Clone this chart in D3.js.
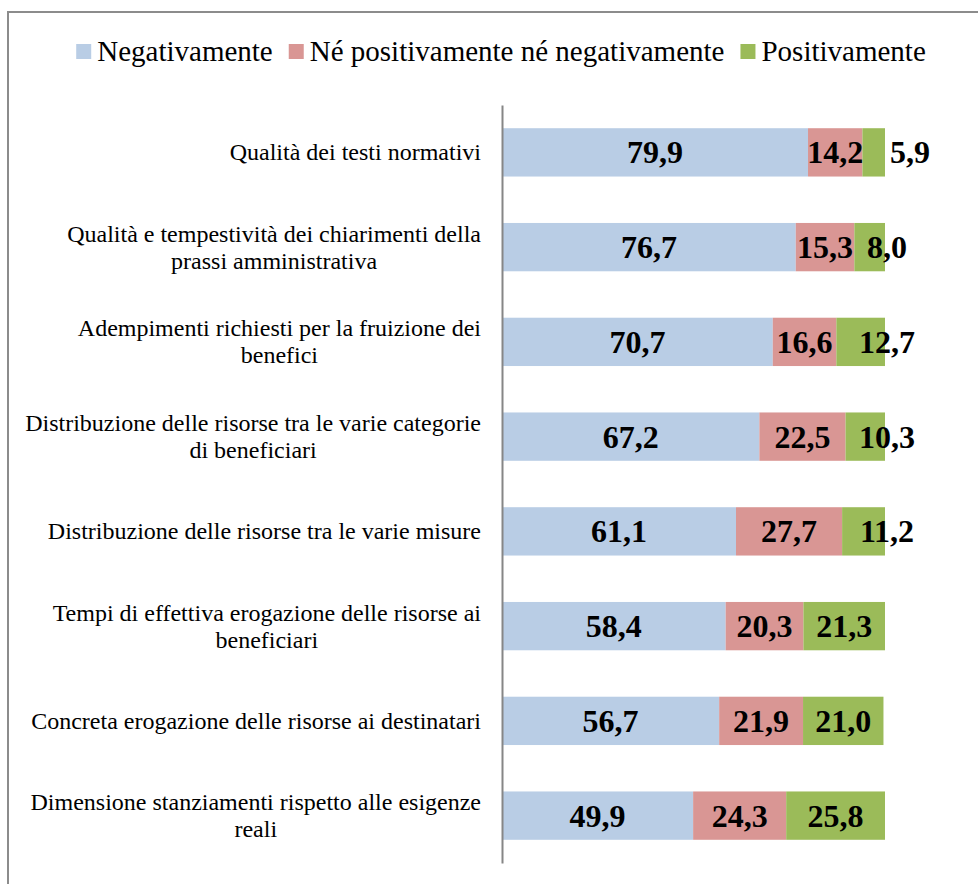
<!DOCTYPE html>
<html>
<head>
<meta charset="utf-8">
<script src="https://cdn.jsdelivr.net/npm/d3@7"></script>
<style>
  body { margin: 0; background: #fff; font-family: 'Liberation Serif', 'Times New Roman', Times, serif; }
  svg { display: block; }
</style>
</head>
<body>
<svg id="chart"></svg>
<script>
// data (percentages)
const categories = [
    "Qualità dei testi normativi",
    "Qualità e tempestività dei chiarimenti della prassi amministrativa",
    "Adempimenti richiesti per la fruizione dei benefici",
    "Distribuzione delle risorse tra le varie categorie di beneficiari",
    "Distribuzione delle risorse tra le varie misure",
    "Tempi di effettiva erogazione delle risorse ai beneficiari",
    "Concreta erogazione delle risorse ai destinatari",
    "Dimensione stanziamenti rispetto alle esigenze reali"
];
const negativamente = [79.9, 76.7, 70.7, 67.2, 61.1, 58.4, 56.7, 49.9];
const neutro        = [14.2, 15.3, 16.6, 22.5, 27.7, 20.3, 21.9, 24.3];
const positivamente = [5.9, 8.0, 12.7, 10.3, 11.2, 21.3, 21.0, 25.8];

const seriesNames = ["Negativamente", "Né positivamente né negativamente", "Positivamente"];
const seriesColors = ["#B9CDE5", "#D99694", "#9BBB59"];

const width = 978;
const height = 884;
const serif = "'Liberation Serif', 'Times New Roman', Times, serif";

const svg = d3.select('#chart')
    .attr('width', width)
    .attr('height', height)
    .attr('font-family', serif)
    .style('font-family', serif);

// outer frame (runs off the right and bottom of the picture)
svg.append('rect')
    .attr('x', 8).attr('y', 12)
    .attr('width', 1000).attr('height', 1000)
    .attr('fill', 'none')
    .attr('stroke', '#8c8c8c')
    .attr('stroke-width', 2);

const rows = categories.map((c, i) => ({
    category: c,
    Negativamente: negativamente[i],
    "Né positivamente né negativamente": neutro[i],
    Positivamente: positivamente[i]
}));

const stack = d3.stack().keys(seriesNames);
const layers = stack(rows);

const x = d3.scaleLinear().domain([0, 100]).range([502, 885]);
const y = d3.scaleBand()
    .domain(categories)
    .range([105, 863])
    .paddingInner(0.49)
    .paddingOuter(0.245);

const color = d3.scaleOrdinal().domain(seriesNames).range(seriesColors);

// bars
const groups = svg.selectAll('.layer')
    .data(layers)
    .join('g')
    .attr('class', 'layer')
    .attr('fill', d => color(d.key));

groups.selectAll('rect')
    .data(d => d)
    .join('rect')
    .attr('x', d => x(d[0]))
    .attr('y', d => y(d.data.category))
    .attr('width', d => x(d[1]) - x(d[0]))
    .attr('height', y.bandwidth());

// value labels
const labelSize = 32;
const labels = svg.append('g')
    .attr('font-weight', 'bold')
    .attr('font-size', labelSize)
    .attr('fill', '#000');

layers.forEach((layer, li) => {
    const isLast = li === layers.length - 1;
    layer.forEach(d => {
        const v = d[1] - d[0];
        const txt = v.toFixed(1).replace('.', ',');
        const t = labels.append('text')
            .attr('text-anchor', 'middle')
            .attr('y', y(d.data.category) + y.bandwidth() / 2 + 11)
            .text(txt);
        const tw = t.node().getComputedTextLength();
        const segW = x(d[1]) - x(d[0]);
        let cx = (x(d[0]) + x(d[1])) / 2;
        if (isLast && tw > segW) {
            // last segment too narrow: push its label towards / past the bar end
            if (segW < tw * 0.7) cx = x(d[1]) + 5 + tw / 2;
            else cx = Math.max(cx, x(100) + 2);
        }
        t.attr('x', cx);
    });
});

// axis line (no ticks, no labels drawn by axis)
const gy = svg.append('g')
    .attr('transform', `translate(${x(0)},0)`)
    .call(d3.axisLeft(y).tickSize(0).tickFormat(''));
gy.select('.domain').attr('stroke', '#868686').attr('stroke-width', 2);

// category labels, wrapped and centred as a block right-aligned to the axis
const catSize = 24;
const lineH = 27;
const maxW = 466;
const catG = svg.append('g')
    .attr('font-size', catSize)
    .attr('fill', '#000');

categories.forEach(c => {
    const words = c.split(' ');
    const lines = [];
    let cur = '';
    const probe = catG.append('text');
    words.forEach(w => {
        const test = cur ? cur + ' ' + w : w;
        probe.text(test);
        if (probe.node().getComputedTextLength() > maxW && cur) {
            lines.push(cur);
            cur = w;
        } else {
            cur = test;
        }
    });
    lines.push(cur);
    let widest = 0;
    lines.forEach(l => {
        probe.text(l);
        widest = Math.max(widest, probe.node().getComputedTextLength());
    });
    probe.remove();
    const cx = 481 - widest / 2;
    const cy = y(c) + y.bandwidth() / 2;
    const top = cy - (lines.length - 1) * lineH / 2;
    lines.forEach((l, i) => {
        catG.append('text')
            .attr('text-anchor', 'middle')
            .attr('x', cx)
            .attr('y', top + i * lineH + 8)
            .text(l);
    });
});

// legend
const legSize = 29;
const legend = svg.append('g')
    .attr('font-size', legSize);
let lx = 0;
seriesNames.forEach((s, i) => {
    legend.append('rect')
        .attr('x', lx).attr('y', 44)
        .attr('width', 15).attr('height', 15)
        .attr('fill', color(s));
    const t = legend.append('text')
        .attr('x', lx + 21)
        .attr('y', 61)
        .text(s);
    lx += 21 + t.node().getComputedTextLength() + 16;
});
const legW = lx - 16;
legend.attr('transform', `translate(${501 - legW / 2},0)`);
</script>
</body>
</html>
